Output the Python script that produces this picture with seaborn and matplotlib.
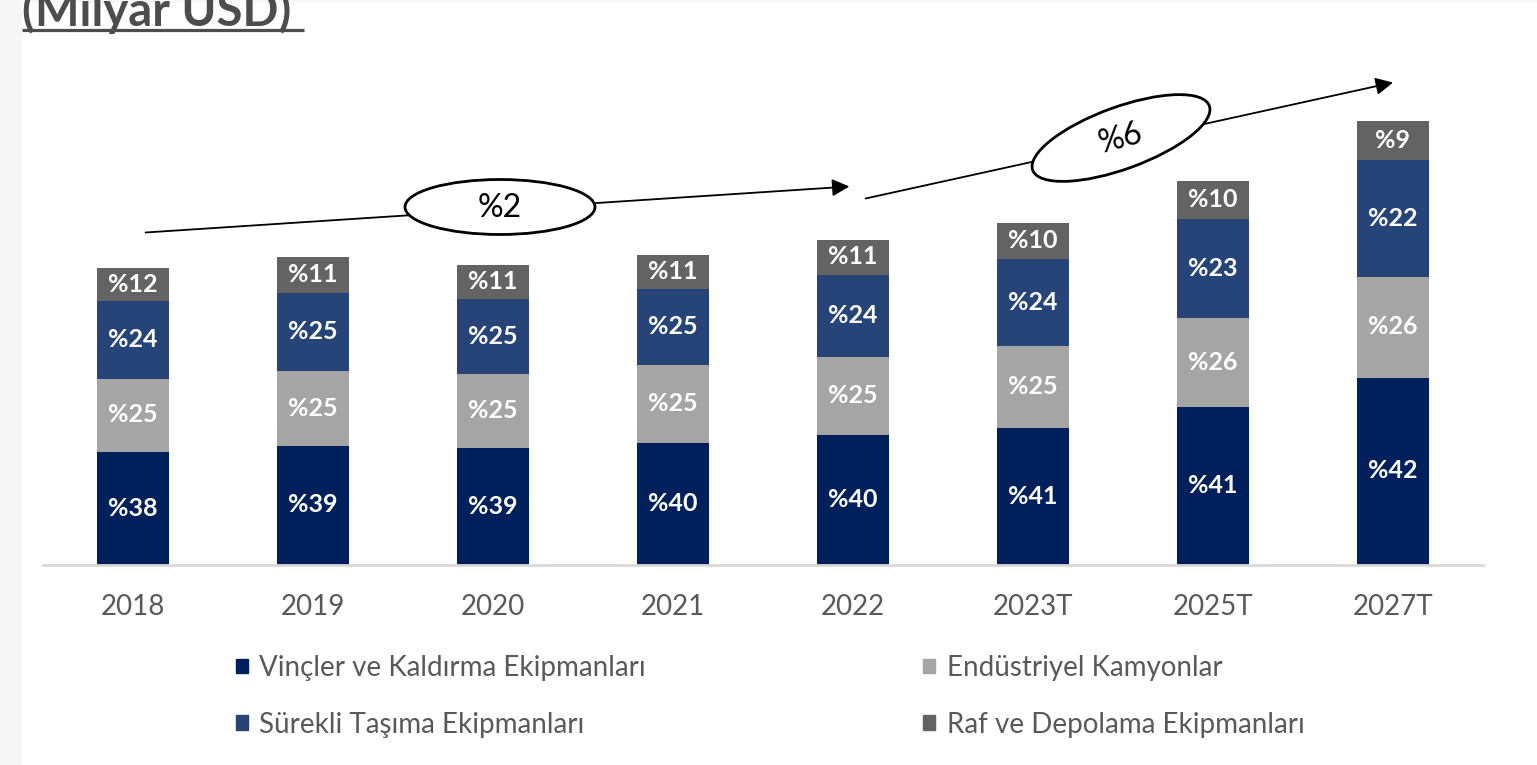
import pandas as pd
import seaborn as sns
import matplotlib.pyplot as plt
from matplotlib.patches import Ellipse, Patch, Rectangle

# --- data ---
years = ["2018", "2019", "2020", "2021", "2022", "2023T", "2025T", "2027T"]

# segment heights (same arbitrary unit for every bar, bottom to top)
vincler = [113, 119, 117, 122, 130, 137, 158, 187]
endustriyel = [73, 75, 74, 78, 78, 82, 89, 101]
surekli = [78, 78, 75, 76, 82, 87, 99, 117]
raf = [33, 36, 34, 34, 35, 36, 38, 39]

# share labels printed on the segments
vincler_pct = [38, 39, 39, 40, 40, 41, 41, 42]
endustriyel_pct = [25, 25, 25, 25, 25, 25, 26, 26]
surekli_pct = [24, 25, 25, 25, 24, 24, 23, 22]
raf_pct = [12, 11, 11, 11, 11, 10, 10, 9]

series_names = ["Vinçler ve Kaldırma Ekipmanları", "Endüstriyel Kamyonlar",
                "Sürekli Taşıma Ekipmanları", "Raf ve Depolama Ekipmanları"]
series_colors = ["#00205b", "#a5a5a5", "#264478", "#636363"]
cagr_labels = ["%2", "%6"]

W, H = 1537, 765

sns.set_style("white")
plt.rcParams["font.family"] = ["Lato", "DejaVu Sans"]

df = pd.DataFrame({"year": years, "v": vincler, "e": endustriyel, "s": surekli, "r": raf})
df["c1"] = df["v"]
df["c2"] = df["c1"] + df["e"]
df["c3"] = df["c2"] + df["s"]
df["c4"] = df["c3"] + df["r"]

fig = plt.figure(figsize=(W / 100, H / 100), dpi=100)
ax = fig.add_axes([43 / W, 200.5 / H, 1440 / W, 504.5 / H])

# stacked bars: draw cumulative totals from the top layer down
for col, color in zip(["c4", "c3", "c2", "c1"], series_colors[::-1]):
    sns.barplot(data=df, x="year", y=col, order=years, color=color,
                saturation=1, width=0.4, linewidth=0, ax=ax)

segments = [("c1", "v", vincler_pct), ("c2", "e", endustriyel_pct),
            ("c3", "s", surekli_pct), ("c4", "r", raf_pct)]
for top_col, h_col, pcts in segments:
    for i in range(len(years)):
        y_mid = df[top_col][i] - df[h_col][i] / 2
        ax.text(i, y_mid, f"%{pcts[i]}", ha="center", va="center",
                color="white", fontsize=18, fontweight="bold")

ax.set_xlim(-0.5, 7.5)
ax.set_ylim(0, 504.5)
ax.set_xlabel("")
ax.set_ylabel("")
ax.set_yticks([])
for sp in ["top", "left", "right"]:
    ax.spines[sp].set_visible(False)
ax.spines["bottom"].set_color("#d9d9d9")
ax.spines["bottom"].set_linewidth(2)
ax.tick_params(axis="x", length=0, pad=21, labelsize=20, labelcolor="#595959")

# growth arrows
arrow_kw = dict(arrowstyle="-|>", color="black", lw=1.3, mutation_scale=26,
                shrinkA=0, shrinkB=0)
ax.annotate("", xy=(3.98, 378), xytext=(0.07, 332), arrowprops=arrow_kw,
            annotation_clip=False)
ax.annotate("", xy=(7.0, 482), xytext=(4.07, 366), arrowprops=arrow_kw,
            annotation_clip=False)

# overlay in pixel coordinates for ellipses, title underline, page strips
ov = fig.add_axes([0, 0, 1, 1], facecolor="none")
ov.set_xlim(0, W)
ov.set_ylim(H, 0)
ov.axis("off")

ov.add_patch(Rectangle((0, 0), 22, H, color="#f7f7f7", lw=0))
ov.add_patch(Rectangle((0, 0), W, 3, color="#f7f7f7", lw=0))

ov.add_patch(Ellipse((500, 207), 190, 55, fc="white", ec="black", lw=2))
ov.text(500, 208, cagr_labels[0], ha="center", va="center", fontsize=23, color="black")
ov.add_patch(Ellipse((1121, 138), 188, 62, angle=-20, fc="white", ec="black", lw=2))
ov.text(1121, 139, cagr_labels[1], ha="center", va="center", fontsize=23,
        color="black", rotation=15)

fig.text(22 / W, 1 - 26 / H, "(Milyar USD)", fontsize=34, fontweight="bold",
         color="#4d4d4f", va="baseline", ha="left")
ov.plot([22, 304], [30, 30], color="#4d4d4f", lw=2.3, solid_capstyle="butt")

handles = [Patch(color=series_colors[0]), Patch(color=series_colors[2]),
           Patch(color=series_colors[1]), Patch(color=series_colors[3])]
labels = [series_names[0], series_names[2], series_names[1], series_names[3]]
fig.legend(handles, labels, ncol=2, loc="upper left",
           bbox_to_anchor=(236 / W, 1 - 655 / H), frameon=False, fontsize=20,
           handlelength=0.43, handleheight=0.43, handletextpad=0.4,
           columnspacing=10.0, labelspacing=1.1, borderpad=0, borderaxespad=0,
           labelcolor="#595959")

fig.savefig("out.png", dpi=100)
